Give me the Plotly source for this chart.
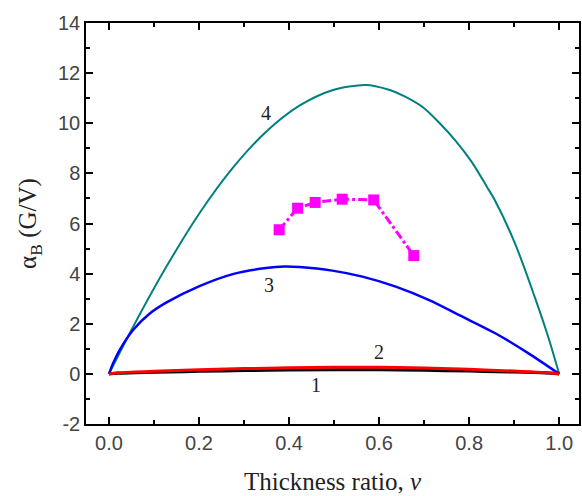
import plotly.graph_objects as go

# Curve 4 (teal)
x4 = [0.0, 0.054, 0.128, 0.201, 0.275, 0.349, 0.423, 0.496, 0.570, 0.62, 0.659, 0.70, 0.732, 0.77, 0.806, 0.84, 0.858, 0.902, 0.946, 0.976, 1.0]
y4 = [0.0, 1.89, 4.29, 6.41, 8.22, 9.66, 10.70, 11.32, 11.53, 11.35, 11.05, 10.60, 10.05, 9.30, 8.45, 7.45, 6.90, 5.20, 3.05, 1.45, 0.0]

# Curve 3 (blue)
x3 = [0.0, 0.01, 0.024, 0.054, 0.09, 0.128, 0.201, 0.275, 0.349, 0.39, 0.423, 0.496, 0.563, 0.637, 0.710, 0.784, 0.858, 0.931, 1.0]
y3 = [0.0, 0.45, 0.96, 1.76, 2.40, 2.85, 3.50, 3.98, 4.22, 4.28, 4.26, 4.12, 3.88, 3.48, 2.95, 2.29, 1.62, 0.83, 0.0]

# Curves 1 (black) and 2 (red)
x12 = [0.0, 0.02, 0.1, 0.2, 0.3, 0.4, 0.5, 0.6, 0.7, 0.8, 0.9, 0.97, 1.0]
y1 = [0.0, 0.02, 0.06, 0.10, 0.13, 0.15, 0.16, 0.16, 0.14, 0.11, 0.07, 0.03, 0.0]
y2 = [0.0, 0.04, 0.10, 0.16, 0.21, 0.24, 0.26, 0.26, 0.23, 0.18, 0.11, 0.05, 0.0]

# Experimental points (magenta squares)
xe = [0.378, 0.419, 0.458, 0.518, 0.588, 0.677]
ye = [5.75, 6.61, 6.84, 6.97, 6.94, 4.72]

# Curve labels
lab_text = ["1", "2", "3", "4"]
lab_x = [0.459, 0.600, 0.355, 0.349]
lab_y = [-0.44, 0.89, 3.55, 10.40]

xticks = [0.0, 0.2, 0.4, 0.6, 0.8, 1.0]
xticklabels = ["0.0", "0.2", "0.4", "0.6", "0.8", "1.0"]
yticks = [-2, 0, 2, 4, 6, 8, 10, 12, 14]
yticklabels = ["-2", "0", "2", "4", "6", "8", "10", "12", "14"]

fig = go.Figure()
fig.add_trace(go.Scatter(x=x4, y=y4, mode="lines", line=dict(color="#008080", width=2, shape="spline", smoothing=0.8), showlegend=False))
fig.add_trace(go.Scatter(x=x3, y=y3, mode="lines", line=dict(color="#0000FF", width=2.5, shape="spline", smoothing=0.8), showlegend=False))
fig.add_trace(go.Scatter(x=x12, y=y1, mode="lines", line=dict(color="#000000", width=3, shape="spline"), showlegend=False))
fig.add_trace(go.Scatter(x=x12, y=y2, mode="lines", line=dict(color="#FF0000", width=3, shape="spline"), showlegend=False))
fig.add_trace(go.Scatter(x=xe, y=ye, mode="lines+markers",
                         line=dict(color="#FF00FF", width=3, dash="dashdot"),
                         marker=dict(symbol="square", size=11, color="#FF00FF"),
                         showlegend=False))

for t, xx, yy in zip(lab_text, lab_x, lab_y):
    fig.add_annotation(x=xx, y=yy, text=t, showarrow=False,
                       font=dict(family="Liberation Serif", size=20, color="#222"))

axis_common = dict(showgrid=False, zeroline=False, showline=True, linecolor="black", linewidth=1.5,
                   mirror="ticks", ticks="inside", ticklen=7, tickwidth=1.5, tickcolor="black",
                   tickfont=dict(family="Liberation Sans", size=20, color="#444"))

fig.update_xaxes(range=[-0.051, 1.044], tickvals=xticks, ticktext=xticklabels,
                 minor=dict(ticks="inside", ticklen=4, tickwidth=1.5, tickcolor="black", dtick=0.1, tick0=0),
                 title=dict(text="Thickness ratio, <i>v</i>", standoff=20,
                            font=dict(family="Liberation Serif", size=25, color="#222")),
                 **axis_common)
fig.update_yaxes(range=[-2, 14], tickvals=yticks, ticktext=yticklabels,
                 minor=dict(ticks="inside", ticklen=4, tickwidth=1.5, tickcolor="black", dtick=1, tick0=0),
                 title=dict(text="α<sub>B</sub> (G/V)", standoff=14,
                            font=dict(family="Liberation Serif", size=25, color="#222")),
                 **axis_common)

fig.update_layout(width=582, height=496, margin=dict(l=86, r=1, t=23, b=72),
                  plot_bgcolor="white", paper_bgcolor="white")

fig.write_html("out.html", config={"displayModeBar": False},
               post_script="document.body.style.margin='0';document.body.style.overflow='hidden';"
                           "document.documentElement.style.overflow='hidden';")
